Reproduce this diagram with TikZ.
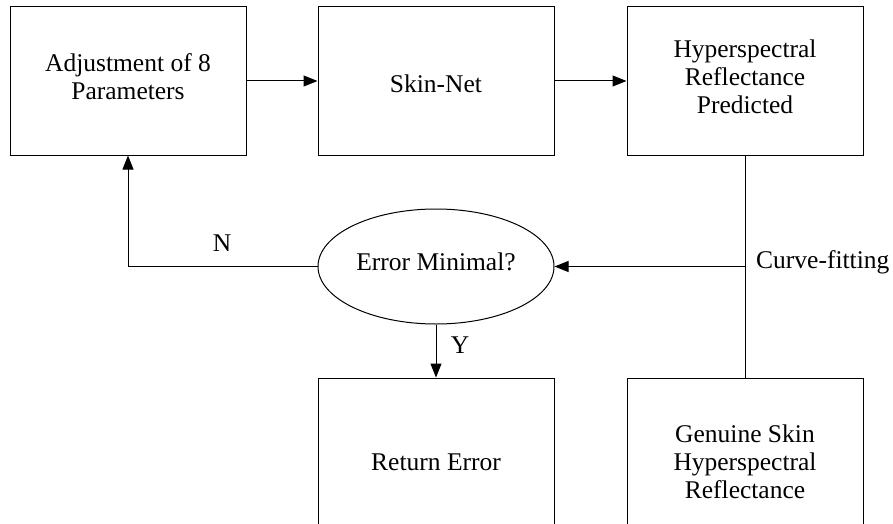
\documentclass[tikz,border=0pt]{standalone}
\usepackage{fontspec}
\setmainfont{Liberation Serif}
\usetikzlibrary{arrows.meta,shapes.geometric}
\begin{document}
\begin{tikzpicture}[x=1pt,y=-1pt,
  every node/.style={font=\fontsize{25.5}{28}\selectfont},
  box/.style={draw,line width=1pt,minimum width=236pt,minimum height=148pt,inner sep=0pt,align=center},
  lowbox/.style={box,minimum height=168pt},
  oval/.style={draw,ellipse,line width=1pt,minimum width=236pt,minimum height=115pt,inner sep=0pt},
  conn/.style={line width=1pt},
  arr/.style={conn,-{Triangle[length=14pt,width=11pt]}},
  lbl/.style={inner sep=0pt}]
\useasboundingbox (0,0) rectangle (893,524);
\clip (0,0) rectangle (893,524);
\node[box,text depth=8pt] (adj) at (128,81) {Adjustment of 8\\Parameters};
\node[box,text height=24pt] (net) at (436,81) {Skin-Net};
\node[box,text depth=8pt] (pred) at (745,81) {Hyperspectral\\Reflectance\\Predicted};
\node[oval,text depth=9pt] (err) at (436,266.5) {Error Minimal?};
\node[lowbox] (ret) at (436,462) {Return Error};
\node[lowbox] (gen) at (745,462) {Genuine Skin\\Hyperspectral\\Reflectance};
\coordinate (j) at (pred.south |- err.east);
\coordinate (nc) at (adj.south |- err.west);
\draw[arr] (adj) -- (net);
\draw[arr] (net) -- (pred);
\draw[conn] (pred.south) -- (gen.north);
\draw[arr] (j) -- (err.east);
\draw[arr] (err.west) -- (nc) -- (adj.south);
\draw[arr] (err.south) -- (ret.north);
\node[lbl] (nl) at (222,243) {N};
\node[lbl] (yl) at (460,345) {Y};
\node[lbl,anchor=west] (cf) at (756,262) {Curve-fitting};
\end{tikzpicture}
\end{document}
